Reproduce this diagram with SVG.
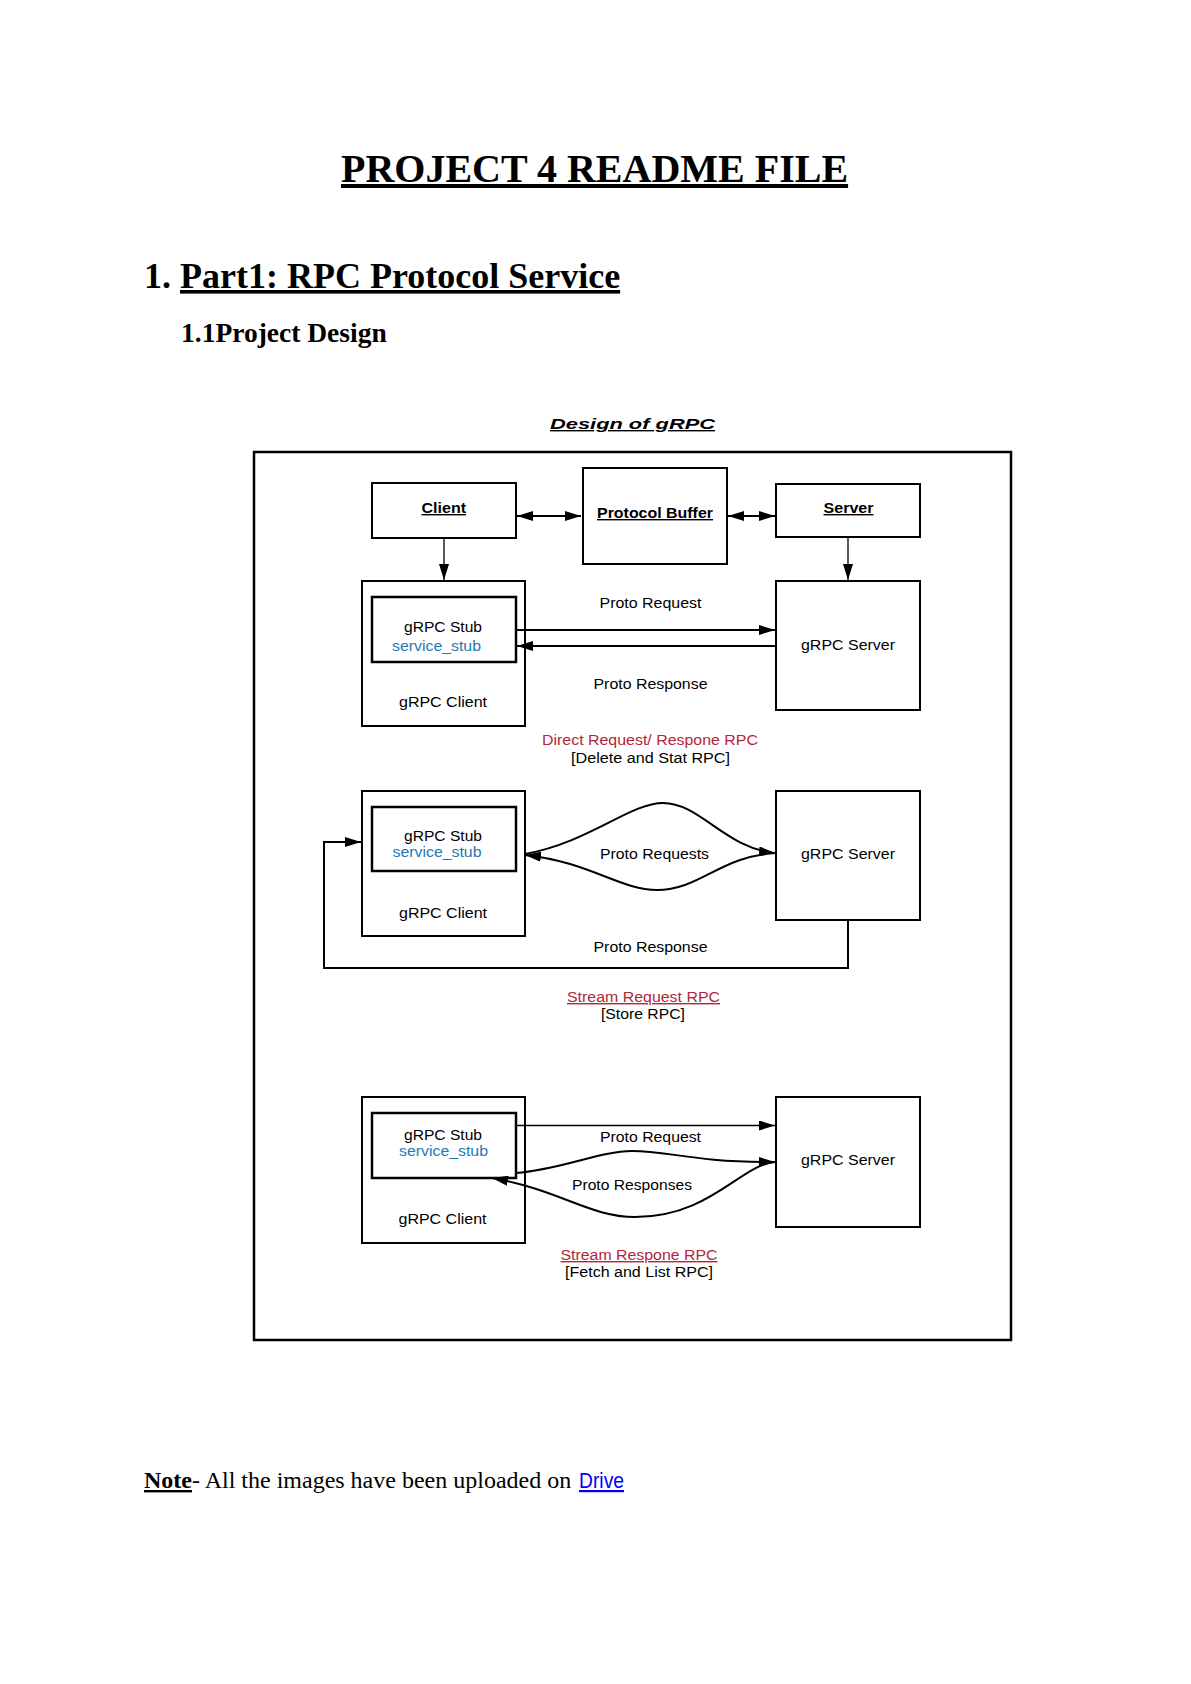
<svg xmlns="http://www.w3.org/2000/svg" width="1191" height="1684" viewBox="0 0 1191 1684">
<style>
.serif{font-family:"Liberation Serif","Times New Roman",serif;fill:#000}
.sans{font-family:"Liberation Sans",Arial,sans-serif;font-size:14px;fill:#000}
.c{text-anchor:middle}
.b{font-weight:bold}
.u{text-decoration:underline}
.blue{fill:#1f78b4}
.red{fill:#b3263a}
.box{fill:none;stroke:#000;stroke-width:2}
.stub{fill:none;stroke:#000;stroke-width:2.5}
.ln{fill:none;stroke:#000;stroke-width:2}
.thin{fill:none;stroke:#000;stroke-width:1.3}
</style>
<defs>
<marker id="ah" viewBox="0 0 16 10" refX="16" refY="5" markerWidth="16" markerHeight="10" markerUnits="userSpaceOnUse" orient="auto-start-reverse"><path d="M0,0 L16,5 L0,10 z" fill="#000"/></marker>
</defs>
<rect width="1191" height="1684" fill="#fff"/>

<g id="headings">
<text class="serif b u" x="341" y="182" font-size="40">PROJECT 4 README FILE</text>
<text class="serif b" x="144" y="288" font-size="36">1.</text>
<text class="serif b u" x="180" y="288" font-size="36">Part1: RPC Protocol Service</text>
<text class="serif b" x="181" y="342" font-size="27.5">1.1Project Design</text>
</g>

<g id="diagram-title">
<text class="sans b u" x="550" y="429" font-size="18.5" font-style="italic" textLength="165" lengthAdjust="spacingAndGlyphs">Design of gRPC</text>
</g>

<g id="frame"><rect x="254" y="452" width="757" height="888" fill="none" stroke="#000" stroke-width="2.5"/></g>

<g id="client">
<rect class="box" x="372" y="483" width="144" height="55"/>
<text class="sans b u" x="421.5" y="513" textLength="44.5" lengthAdjust="spacingAndGlyphs">Client</text>
</g>
<g id="protocol-buffer">
<rect class="box" x="583" y="468" width="144" height="96"/>
<text class="sans b u" x="597" y="518" textLength="116" lengthAdjust="spacingAndGlyphs">Protocol Buffer</text>
</g>
<g id="server">
<rect class="box" x="776" y="484" width="144" height="53"/>
<text class="sans b u" x="823.5" y="513" textLength="50" lengthAdjust="spacingAndGlyphs">Server</text>
</g>

<!-- Section 1 -->
<g id="grpc-client-1">
<rect class="box" x="362" y="581" width="163" height="145"/>
<text class="sans" x="399" y="707" textLength="88" lengthAdjust="spacingAndGlyphs">gRPC Client</text>
</g>
<g id="grpc-stub-1">
<rect class="stub" x="372" y="597" width="144" height="65"/>
<text class="sans" x="404" y="632" textLength="78" lengthAdjust="spacingAndGlyphs">gRPC Stub</text>
<text class="sans blue" x="392" y="651" textLength="89" lengthAdjust="spacingAndGlyphs">service_stub</text>
</g>
<g id="grpc-server-1">
<rect class="box" x="776" y="581" width="144" height="129"/>
<text class="sans" x="801" y="650" textLength="94" lengthAdjust="spacingAndGlyphs">gRPC Server</text>
</g>

<!-- Section 2 -->
<g id="grpc-client-2">
<rect class="box" x="362" y="791" width="163" height="145"/>
<text class="sans" x="399" y="918" textLength="88" lengthAdjust="spacingAndGlyphs">gRPC Client</text>
</g>
<g id="grpc-stub-2">
<rect class="stub" x="372" y="807" width="144" height="64"/>
<text class="sans" x="404" y="841" textLength="78" lengthAdjust="spacingAndGlyphs">gRPC Stub</text>
<text class="sans blue" x="392.5" y="857" textLength="89" lengthAdjust="spacingAndGlyphs">service_stub</text>
</g>
<g id="grpc-server-2">
<rect class="box" x="776" y="791" width="144" height="129"/>
<text class="sans" x="801" y="859" textLength="94" lengthAdjust="spacingAndGlyphs">gRPC Server</text>
</g>

<!-- Section 3 -->
<g id="grpc-client-3">
<rect class="box" x="362" y="1097" width="163" height="146" stroke-width="1.7"/>
<text class="sans" x="398.5" y="1224" textLength="88" lengthAdjust="spacingAndGlyphs">gRPC Client</text>
</g>
<g id="grpc-stub-3">
<rect class="stub" x="372" y="1113" width="144" height="65"/>
<text class="sans" x="404" y="1140" textLength="78" lengthAdjust="spacingAndGlyphs">gRPC Stub</text>
<text class="sans blue" x="399" y="1156" textLength="89" lengthAdjust="spacingAndGlyphs">service_stub</text>
</g>
<g id="grpc-server-3">
<rect class="box" x="776" y="1097" width="144" height="130" stroke-width="1.7"/>
<text class="sans" x="801" y="1165" textLength="94" lengthAdjust="spacingAndGlyphs">gRPC Server</text>
</g>

<g id="connectors">
<line class="ln" x1="517" y1="516" x2="581" y2="516" marker-start="url(#ah)" marker-end="url(#ah)"/>
<line class="ln" x1="728" y1="516" x2="775" y2="516" marker-start="url(#ah)" marker-end="url(#ah)"/>
<line class="thin" x1="444" y1="538" x2="444" y2="580" marker-end="url(#ah)"/>
<line class="thin" x1="848" y1="537" x2="848" y2="580" marker-end="url(#ah)"/>
<line class="ln" x1="516" y1="630" x2="775" y2="630" marker-end="url(#ah)"/>
<line class="ln" x1="776" y1="646" x2="517" y2="646" marker-end="url(#ah)"/>
<path class="ln" d="M525,854 C590,842 630,803 663,803 C700,803 725,848 775,853" marker-end="url(#ah)"/>
<path class="ln" d="M525,855 C590,862 620,890 657,890 C700,890 720,856 776,853" marker-start="url(#ah)"/>
<path class="ln" d="M848,920 V968 H324 V842 H361" marker-end="url(#ah)"/>
<line class="thin" x1="516" y1="1125.5" x2="775" y2="1125.5" marker-end="url(#ah)"/>
<path class="ln" d="M516,1173 C560,1170 600,1151 632,1151 C670,1151 690,1162 775,1162" marker-end="url(#ah)"/>
<path class="ln" d="M775,1162 C740,1165 710,1217 635,1217 C590,1217 560,1190 492,1178" marker-end="url(#ah)"/>
</g>

<g id="labels">
<text class="sans" x="599.5" y="608" textLength="102" lengthAdjust="spacingAndGlyphs">Proto Request</text>
<text class="sans" x="593.5" y="689" textLength="114" lengthAdjust="spacingAndGlyphs">Proto Response</text>
<text class="sans red" x="542" y="745" textLength="216" lengthAdjust="spacingAndGlyphs">Direct Request/ Respone RPC</text>
<text class="sans" x="571" y="763" textLength="159" lengthAdjust="spacingAndGlyphs">[Delete and Stat RPC]</text>
<text class="sans" x="600" y="859" textLength="109" lengthAdjust="spacingAndGlyphs">Proto Requests</text>
<text class="sans" x="593.5" y="952" textLength="114" lengthAdjust="spacingAndGlyphs">Proto Response</text>
<text class="sans red u" x="567" y="1002" textLength="153" lengthAdjust="spacingAndGlyphs">Stream Request RPC</text>
<text class="sans" x="601" y="1019" textLength="84" lengthAdjust="spacingAndGlyphs">[Store RPC]</text>
<text class="sans" x="600" y="1142" textLength="101" lengthAdjust="spacingAndGlyphs">Proto Request</text>
<text class="sans" x="572" y="1190" textLength="120" lengthAdjust="spacingAndGlyphs">Proto Responses</text>
<text class="sans red u" x="560.5" y="1260" textLength="157" lengthAdjust="spacingAndGlyphs">Stream Respone RPC</text>
<text class="sans" x="565" y="1277" textLength="148" lengthAdjust="spacingAndGlyphs">[Fetch and List RPC]</text>
</g>

<g id="note">
<text class="serif" x="144" y="1488" font-size="24"><tspan class="b u">Note</tspan><tspan>- All the images have been uploaded on </tspan></text>
<text x="579" y="1488" font-family="'Liberation Sans',Arial,sans-serif" font-size="22" fill="#0000ff" text-decoration="underline" textLength="45" lengthAdjust="spacingAndGlyphs">Drive</text>
</g>
</svg>
